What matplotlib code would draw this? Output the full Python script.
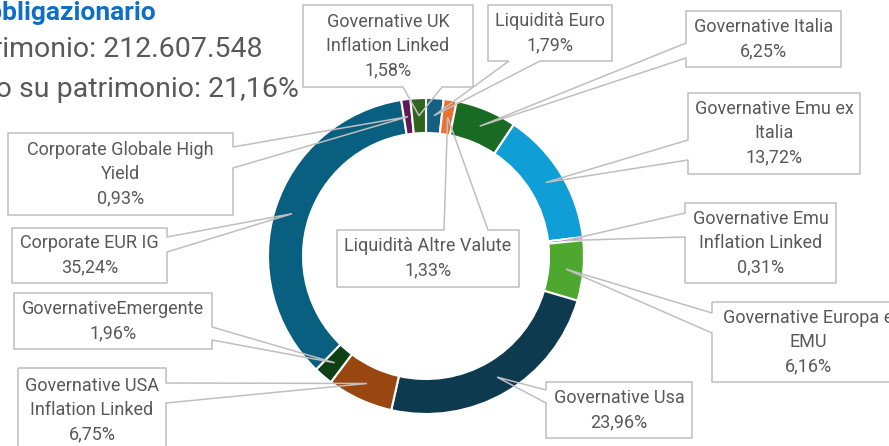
import numpy as np
import matplotlib
matplotlib.use('Agg')
import matplotlib.pyplot as plt
from matplotlib.patches import Polygon

plt.rcParams['font.family'] = ['Roboto', 'DejaVu Sans']

W, H = 889, 446   # figure size in pixels, axes use pixel units

# data, in the order Excel draws it (clockwise from 12 o'clock)
categories = ['Liquidità Euro', 'Liquidità Altre Valute', 'Governative Italia',
              'Governative Emu ex Italia', 'Governative Emu Inflation Linked',
              'Governative Europa e EMU', 'Governative Usa',
              'Governative USA Inflation Linked', 'GovernativeEmergente',
              'Corporate EUR IG', 'Corporate Globale High Yield',
              'Governative UK Inflation Linked']
weights = [1.79, 1.33, 6.25, 13.72, 0.31, 6.16, 23.96, 6.75, 1.96, 35.24, 0.93, 1.58]
wrapped = ['Liquidità Euro', 'Liquidità Altre Valute', 'Governative Italia',
           'Governative Emu ex\nItalia', 'Governative Emu\nInflation Linked',
           'Governative Europa e\nEMU', 'Governative Usa',
           'Governative USA\nInflation Linked', 'GovernativeEmergente',
           'Corporate EUR IG', 'Corporate Globale High\nYield',
           'Governative UK\nInflation Linked']
colors = ['#156082', '#E97132', '#196B24', '#0F9ED5', '#A02B93', '#4EA72E',
          '#0D3A4E', '#994611', '#0F4015', '#095F80', '#601A58', '#2F641C']

# label boxes in screen pixels: (x0, y0, x1, y1), side of the pointer, pointer base
boxes = [
    ((488, 5, 612, 61), 'bottom', (509, 540)),
    ((337, 230, 519, 287), 'top', (444, 488)),
    ((686, 11, 841, 67), 'left', (43, 58)),
    ((688, 93, 860, 174), 'left', (140, 160)),
    ((685, 203, 836, 283), 'left', (213, 237)),
    ((712, 302, 904, 382), 'left', (313, 333)),
    ((546, 382, 692, 438), 'left', (390, 403)),
    ((18, 368, 166, 452), 'right', (383, 403)),
    ((14, 293, 212, 349), 'right', (327, 340)),
    ((12, 228, 167, 283), 'right', (237, 252)),
    ((8, 133, 233, 215), 'right', (147, 168)),
    ((303, 5, 473, 87), 'bottom', (403, 442)),
]

cx, cy, R, ring = 426, 256, 158, 35
txt_col = '#595959'

fig = plt.figure(figsize=(W / 100, H / 100), dpi=100)
ax = fig.add_axes([0, 0, 1, 1])

wedges, _ = ax.pie(weights, colors=colors, startangle=90, counterclock=False,
                   center=(cx, H - cy), radius=R,
                   wedgeprops=dict(width=ring, edgecolor='white', linewidth=1.5))


def callout(box, side, base, tip):
    x0, y0, x1, y1 = box
    b1, b2 = base
    tx, ty = tip
    if side == 'left':
        pts = [(x0, y0), (x1, y0), (x1, y1), (x0, y1), (x0, b2), (tx, ty), (x0, b1)]
    elif side == 'right':
        pts = [(x0, y0), (x1, y0), (x1, b1), (tx, ty), (x1, b2), (x1, y1), (x0, y1)]
    elif side == 'top':
        pts = [(x0, y0), (b1, y0), (tx, ty), (b2, y0), (x1, y0), (x1, y1), (x0, y1)]
    else:
        pts = [(x0, y0), (x1, y0), (x1, y1), (b2, y1), (tx, ty), (b1, y1), (x0, y1)]
    pts = [(px, H - py) for px, py in pts]
    ax.add_patch(Polygon(pts, closed=True, facecolor='none', edgecolor='#bfbfbf',
                         linewidth=1.1, zorder=3))


for w, name, v, (box, side, base) in zip(wedges, wrapped, weights, boxes):
    mid = np.deg2rad((w.theta1 + w.theta2) / 2)
    r = w.r - ring / 2
    tip = (w.center[0] + r * np.cos(mid), H - (w.center[1] + r * np.sin(mid)))
    callout(box, side, base, tip)
    pct = f'{v:.2f}'.replace('.', ',') + '%'
    ax.text((box[0] + box[2]) / 2, H - (box[1] + box[3]) / 2, name + '\n' + pct,
            ha='center', va='center', fontsize=13, color=txt_col,
            linespacing=1.45, zorder=4)

# title block (cut off at the left edge in the original)
ax.text(157, H - 20, 'Obbligazionario', ha='right', va='baseline', fontsize=19,
        fontweight='bold', color='#0F6FC6')
ax.text(262, H - 57, 'Patrimonio: 212.607.548', ha='right', va='baseline',
        fontsize=20.5, color=txt_col)
ax.text(299, H - 97, 'Peso su patrimonio: 21,16%', ha='right', va='baseline',
        fontsize=20.5, color=txt_col)

ax.set_xlim(0, W)
ax.set_ylim(0, H)
ax.axis('off')

fig.savefig('out.png', dpi=100)
